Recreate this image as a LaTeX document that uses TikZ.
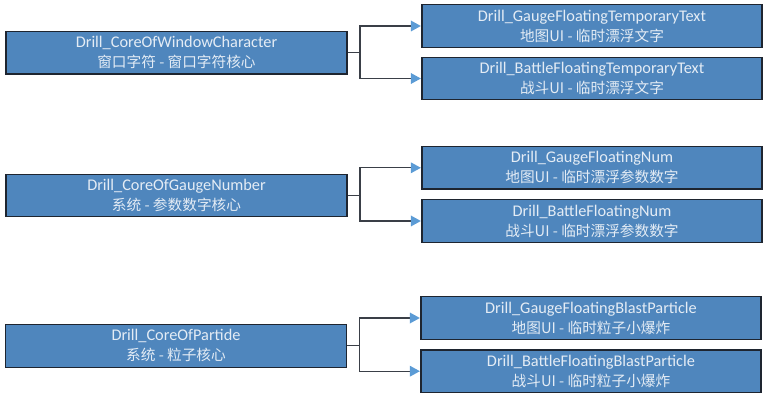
\documentclass[tikz,border=0pt]{standalone}
\usepackage{fontspec}
\setmainfont{Carlito}
\newfontfamily\cjk[Scale=0.9]{Noto Sans CJK SC}
\definecolor{boxfill}{HTML}{4F86BD}
\definecolor{boxline}{HTML}{1E2530}
\definecolor{txtc}{HTML}{E4ECF5}
\definecolor{tipc}{HTML}{5B9BD5}
\definecolor{linec}{HTML}{3A3F47}
\begin{document}
\begin{tikzpicture}[x=1pt,y=1pt,
  boxbase/.style={draw=boxline, line width=1.1pt, fill=boxfill, text=txtc,
    font=\fontsize{16.3}{20}\selectfont, align=center, inner sep=0pt,
    minimum height=42.5pt},
  parentbox/.style={boxbase, minimum width=341pt},
  childbox/.style={boxbase, minimum width=340pt},
  stem/.style={draw=linec, line width=1.2pt},
  tiphead/.style={fill=tipc}
]
\useasboundingbox (0,0) rectangle (769,405);
\newcommand{\mytip}[1]{\fill[tiphead] ([xshift=-0.6pt]#1) -- ++(-10,5.5) -- ++(0,-11) -- cycle;}
% group 1
\node[parentbox] (p1) at (176.5,352.2) {Drill\_CoreOfWindowCharacter\\\cjk{窗口字符} - \cjk{窗口字符核心}};
\node[childbox] (c11) at (592,379) {Drill\_GaugeFloatingTemporaryText\\\cjk{地图}UI - \cjk{临时漂浮文字}};
\node[childbox] (c12) at (592,326.5) {Drill\_BattleFloatingTemporaryText\\\cjk{战斗}UI - \cjk{临时漂浮文字}};
\coordinate (j1) at (360,352.2);
\draw[stem] (p1.east) -- (j1);
\draw[stem] (j1) |- ([xshift=-8pt]c11.west);
\draw[stem] (j1) |- ([xshift=-8pt]c12.west);
\mytip{c11.west}
\mytip{c12.west}
% group 2
\node[parentbox] (p2) at (176.5,209.3) {Drill\_CoreOfGaugeNumber\\\cjk{系统} - \cjk{参数数字核心}};
\node[childbox] (c21) at (592,237.2) {Drill\_GaugeFloatingNum\\\cjk{地图}UI - \cjk{临时漂浮参数数字}};
\node[childbox] (c22) at (592,184) {Drill\_BattleFloatingNum\\\cjk{战斗}UI - \cjk{临时漂浮参数数字}};
\coordinate (j2) at (360,209.3);
\draw[stem] (p2.east) -- (j2);
\draw[stem] (j2) |- ([xshift=-8pt]c21.west);
\draw[stem] (j2) |- ([xshift=-8pt]c22.west);
\mytip{c21.west}
\mytip{c22.west}
% group 3
\node[parentbox] (p3) at (176,59.2) {Drill\_CoreOfPartide\\\cjk{系统} - \cjk{粒子核心}};
\node[childbox] (c31) at (591,87) {Drill\_GaugeFloatingBlastParticle\\\cjk{地图}UI - \cjk{临时粒子小爆炸}};
\node[childbox] (c32) at (591,33.8) {Drill\_BattleFloatingBlastParticle\\\cjk{战斗}UI - \cjk{临时粒子小爆炸}};
\coordinate (j3) at (359.5,59.2);
\draw[stem] (p3.east) -- (j3);
\draw[stem] (j3) |- ([xshift=-8pt]c31.west);
\draw[stem] (j3) |- ([xshift=-8pt]c32.west);
\mytip{c31.west}
\mytip{c32.west}
\end{tikzpicture}
\end{document}
